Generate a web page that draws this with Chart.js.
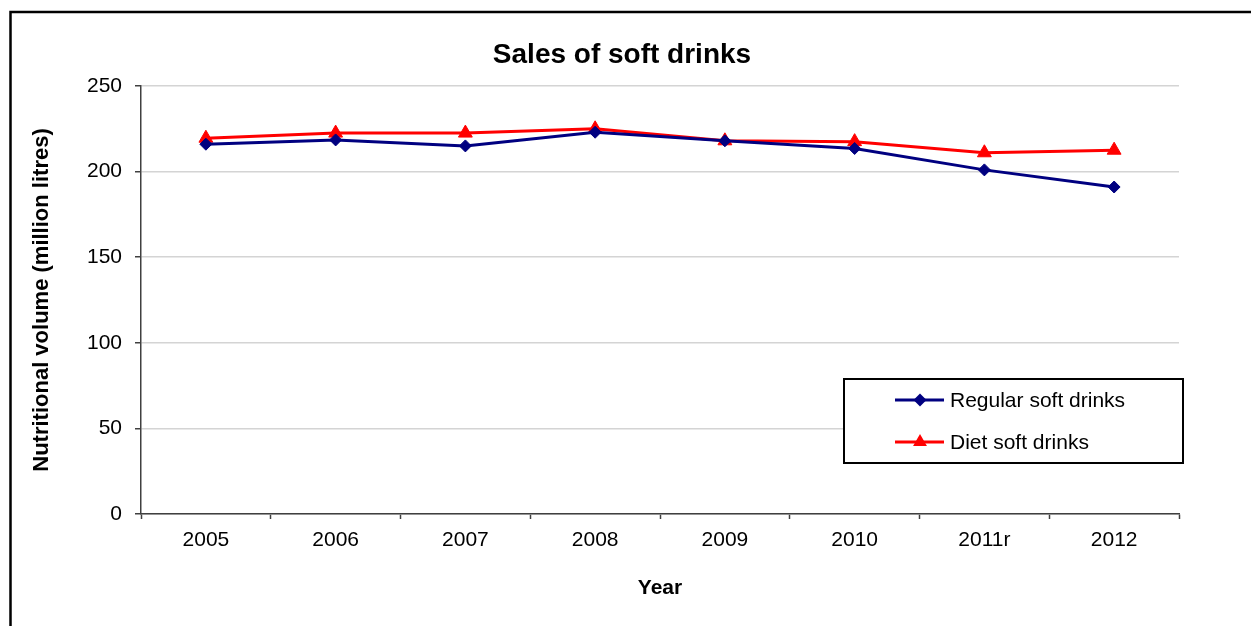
<!DOCTYPE html>
<html>
<head>
<meta charset="utf-8">
<script src="https://cdn.jsdelivr.net/npm/chart.js@4/dist/chart.umd.min.js"></script>
<style>
  html, body { margin: 0; padding: 0; background: #fff; }
  #wrap { width: 1251px; height: 626px; }
</style>
</head>
<body>
<div id="wrap"><canvas id="chart"></canvas></div>
<script>
var years = ['2005', '2006', '2007', '2008', '2009', '2010', '2011r', '2012'];
var regularSales = [216, 218.5, 215, 223, 218, 213.5, 201, 191];
var dietSales = [219.5, 222.5, 222.5, 225, 218, 217.5, 211, 212.5];
var yTicks = [0, 50, 100, 150, 200, 250];

var FONT = "'Liberation Sans', Arial, sans-serif";

// frame, heading and boxed legend are painted on top of the chart
var decorations = {
  id: 'decorations',
  afterDraw: function(chart) {
    let ctx = chart.ctx;
    ctx.save();

    // outer frame (runs off the right and bottom edges)
    ctx.strokeStyle = '#000';
    ctx.lineWidth = 2.5;
    ctx.beginPath();
    ctx.moveTo(10.5, 700);
    ctx.lineTo(10.5, 12);
    ctx.lineTo(1300, 12);
    ctx.stroke();

    // heading
    ctx.fillStyle = '#000';
    ctx.font = 'bold 28px ' + FONT;
    ctx.textAlign = 'center';
    ctx.textBaseline = 'middle';
    ctx.fillText('Sales of soft drinks', 622, 55);

    // legend box
    ctx.lineWidth = 2;
    ctx.strokeStyle = '#000';
    ctx.fillStyle = '#fff';
    ctx.fillRect(844, 379, 339, 84);
    ctx.strokeRect(844, 379, 339, 84);

    let rows = [400, 442];
    chart.data.datasets.forEach(function(ds, i) {
      let y = rows[i];
      ctx.strokeStyle = ds.borderColor;
      ctx.lineWidth = ds.borderWidth;
      ctx.beginPath();
      ctx.moveTo(895, y);
      ctx.lineTo(944, y);
      ctx.stroke();

      ctx.fillStyle = ds.pointBackgroundColor;
      ctx.beginPath();
      if (ds.pointStyle === 'rectRot') {
        let r = 6.5;
        ctx.moveTo(920, y - r);
        ctx.lineTo(920 + r, y);
        ctx.lineTo(920, y + r);
        ctx.lineTo(920 - r, y);
      } else {
        let r = 8;
        ctx.moveTo(920, y - r);
        ctx.lineTo(920 + r * 0.866, y + r * 0.5);
        ctx.lineTo(920 - r * 0.866, y + r * 0.5);
      }
      ctx.closePath();
      ctx.fill();

      ctx.fillStyle = '#000';
      ctx.font = '21px ' + FONT;
      ctx.textAlign = 'left';
      ctx.textBaseline = 'middle';
      ctx.fillText(ds.label, 950, y + 1);
    });

    ctx.restore();
  }
};

let canvas = document.getElementById('chart');
let ctx = canvas.getContext('2d');
let chart = new Chart(ctx, {
  type: 'line',
  data: {
    labels: years,
    datasets: [{
      label: 'Regular soft drinks',
      data: regularSales,
      borderColor: '#000080',
      backgroundColor: '#000080',
      pointBackgroundColor: '#000080',
      pointBorderColor: '#000080',
      pointStyle: 'rectRot',
      pointRadius: 6,
      pointBorderWidth: 1,
      borderWidth: 3,
      tension: 0
    }, {
      label: 'Diet soft drinks',
      data: dietSales,
      borderColor: '#ff0000',
      backgroundColor: '#ff0000',
      pointBackgroundColor: '#ff0000',
      pointBorderColor: '#ff0000',
      pointStyle: 'triangle',
      pointRadius: 8,
      pointBorderWidth: 1,
      borderWidth: 3,
      tension: 0
    }]
  },
  options: {
    responsive: true,
    maintainAspectRatio: false,
    animation: false,
    layout: {
      padding: { top: 86, right: 72, bottom: 0, left: 20 }
    },
    plugins: {
      legend: { display: false },
      title: { display: false },
      tooltip: { enabled: false }
    },
    scales: {
      x: {
        offset: true,
        grid: {
          offset: true,
          drawOnChartArea: false,
          tickLength: 5,
          tickColor: '#404040',
          tickWidth: 1.5
        },
        border: { color: '#404040', width: 1.5 },
        ticks: {
          color: '#000',
          padding: 9,
          maxRotation: 0,
          font: { family: FONT, size: 21 }
        },
        title: {
          display: true,
          text: 'Year',
          color: '#000',
          padding: { top: 0, bottom: 25 },
          font: { family: FONT, size: 21, weight: 'bold' }
        },
        afterFit: function(scale) { scale.height = 112; }
      },
      y: {
        min: 0,
        max: 250,
        afterBuildTicks: function(scale) {
          scale.ticks = yTicks.map(function(v) { return { value: v }; });
        },
        grid: {
          color: '#d4d4d4',
          lineWidth: 1.5,
          tickLength: 6,
          tickColor: '#404040',
          tickWidth: 1.5
        },
        border: { color: '#404040', width: 1.5 },
        ticks: {
          color: '#000',
          padding: 13,
          font: { family: FONT, size: 21 }
        },
        title: {
          display: true,
          text: 'Nutritional volume (million litres)',
          color: '#000',
          padding: { top: 9, bottom: 0 },
          font: { family: FONT, size: 22, weight: 'bold' }
        },
        afterFit: function(scale) { scale.width = 121; }
      }
    }
  },
  plugins: [decorations]
});
</script>
</body>
</html>
